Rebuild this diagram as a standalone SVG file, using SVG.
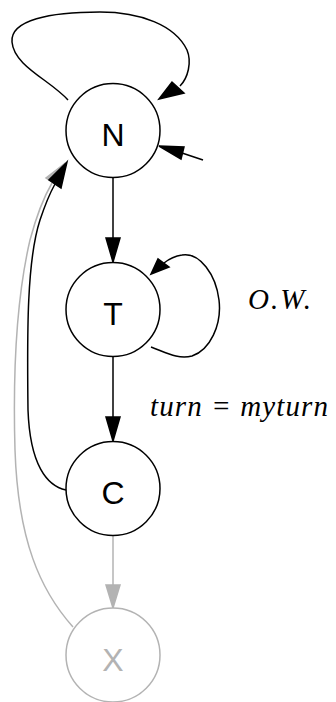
<svg xmlns="http://www.w3.org/2000/svg" width="336" height="702" viewBox="0 0 336 702">
<style>
.node circle{fill:#fff;stroke:#000;stroke-width:1.5}
.node text{font-family:"Liberation Sans",Arial,sans-serif;font-size:32px;text-anchor:middle;fill:#000}
.gray circle{stroke:#b3b3b3}
.gray text{fill:#b3b3b3}
.e{fill:none;stroke:#000;stroke-width:1.5}
.eg{fill:none;stroke:#b3b3b3;stroke-width:1.5}
.ah{fill:#000;stroke:#000;stroke-width:1.5}
.ahg{fill:#b3b3b3;stroke:#b3b3b3;stroke-width:1.5}
.lbl{font-family:"Liberation Serif","Times New Roman",serif;font-style:italic;font-size:29px;fill:#000}
</style>
<rect width="336" height="702" fill="#fff"/>
<g id="edges">
  <path class="eg" d="M73,627 C40,590 18,540 15,450 C13,380 16,300 30,240 C38,210 45,195 52,183"/>
  <polygon class="ahg" points="64,164 46,178 58,186"/>
  <path class="e" d="M66,490 C47,486 30,465 28,410 C27,330 27,260 40,220 C45,205 50,193 55,184"/>
  <polygon class="ah" points="67,162 49,180 61,188"/>
  <path class="e" d="M68,100 C50,80 14,66 12,42 C10,20 50,12 100,12 C140,12 175,25 187,50 C192,62 188,78 180,86"/>
  <polygon class="ah" points="159,99 172,82 184,93"/>
  <path class="e" d="M203,160 L182,153"/>
  <polygon class="ah" points="159,146 184,147 181,159"/>
  <path class="e" d="M113,178 L113,238"/>
  <polygon class="ah" points="113,262 106,238 120,238"/>
  <path class="e" d="M151,347 C165,352 178,360 192,356 C210,350 222,325 219,300 C216,275 200,252 182,255 C175,256 169,259 164,263"/>
  <polygon class="ah" points="151,274 158,259 169,267"/>
  <path class="e" d="M113,357 L113,417"/>
  <polygon class="ah" points="113,441 106,417 120,417"/>
  <path class="eg" d="M113,535 L113,585"/>
  <polygon class="ahg" points="113,608 106,585 120,585"/>
  <text class="lbl" x="248" y="309" textLength="63" lengthAdjust="spacing">O.W.</text>
  <text class="lbl" x="150" y="416" textLength="178" lengthAdjust="spacing">turn = myturn</text>
</g>
<g id="N" class="node"><circle cx="113" cy="130.5" r="47"/><text x="113" y="146">N</text></g>
<g id="T" class="node"><circle cx="113" cy="309.5" r="47"/><text x="113" y="325">T</text></g>
<g id="C" class="node"><circle cx="113" cy="488.5" r="47"/><text x="113" y="504">C</text></g>
<g id="X" class="node gray"><circle cx="113" cy="655" r="47"/><text x="113" y="671">X</text></g>
</svg>
